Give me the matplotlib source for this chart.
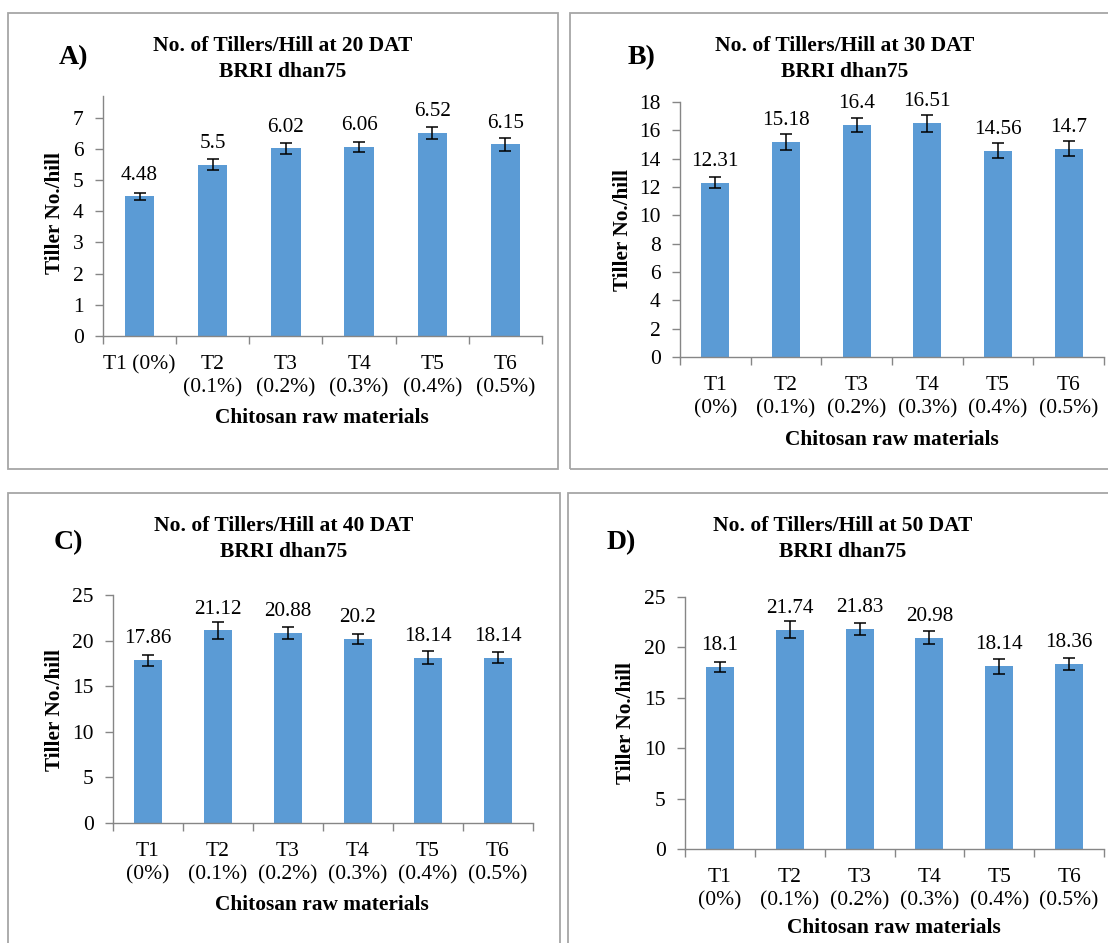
import numpy as np
import matplotlib
matplotlib.use("Agg")
import matplotlib.pyplot as plt
from matplotlib.patches import Rectangle

plt.rcParams['font.family'] = ['Liberation Serif', 'DejaVu Serif']

# data
cats_a = ["T1 (0%)", "T2\n(0.1%)", "T3\n(0.2%)", "T4\n(0.3%)", "T5\n(0.4%)", "T6\n(0.5%)"]
cats = ["T1\n(0%)", "T2\n(0.1%)", "T3\n(0.2%)", "T4\n(0.3%)", "T5\n(0.4%)", "T6\n(0.5%)"]

dat20 = [4.48, 5.5, 6.02, 6.06, 6.52, 6.15]
err20 = [0.12, 0.19, 0.18, 0.17, 0.20, 0.21]
dat30 = [12.31, 15.18, 16.4, 16.51, 14.56, 14.7]
err30 = [0.39, 0.59, 0.49, 0.60, 0.52, 0.54]
dat40 = [17.86, 21.12, 20.88, 20.2, 18.14, 18.14]
err40 = [0.60, 0.90, 0.66, 0.55, 0.71, 0.60]
dat50 = [18.1, 21.74, 21.83, 20.98, 18.14, 18.36]
err50 = [0.50, 0.83, 0.57, 0.62, 0.73, 0.63]

W, H = 1108, 943
fig = plt.figure(figsize=(W/100, H/100), dpi=100)

def fx(x):
    return x/W

def fy(y):
    return 1 - y/H

# panel frames
for (x0, y0, x1, y1) in [(8, 13, 558, 469), (570, 13, 1115, 469),
                         (8, 493, 560, 955), (568, 493, 1115, 955)]:
    fig.patches.append(Rectangle((fx(x0), fy(y1)), fx(x1-x0), (y1-y0)/H,
                                 transform=fig.transFigure, fill=False,
                                 edgecolor="#a6a6a6", lw=1.3))

panels = [
    # axes box (l, t, r, b) in pixels, then data and text spots
    dict(ax=(103, 96, 542, 336), d=dat20, e=err20, lab=cats_a, ymax=7.7, step=1,
         letter="A)", lpos=(73, 58), day=20, tpos=(283, 46), ylpos=(55, 213), xlpos=(322, 418)),
    dict(ax=(680, 102, 1104, 357), d=dat30, e=err30, lab=cats, ymax=18, step=2,
         letter="B)", lpos=(642, 58), day=30, tpos=(845, 46), ylpos=(623, 230), xlpos=(892, 440)),
    dict(ax=(113, 595, 533, 823), d=dat40, e=err40, lab=cats, ymax=25, step=5,
         letter="C)", lpos=(68, 543), day=40, tpos=(284, 526), ylpos=(55, 710), xlpos=(322, 905)),
    dict(ax=(685, 597, 1104, 849), d=dat50, e=err50, lab=cats, ymax=25, step=5,
         letter="D)", lpos=(621, 543), day=50, tpos=(843, 526), ylpos=(626, 723), xlpos=(894, 928)),
]

for p in panels:
    l, t, r, b = p["ax"]
    ax = fig.add_axes([fx(l), fy(b), fx(r-l), (b-t)/H])
    x = np.arange(len(p["d"]))
    ax.bar(x, p["d"], width=0.4, color="#5b9bd5", zorder=2)
    ax.errorbar(x, p["d"], yerr=p["e"], fmt="none", ecolor="black",
                elinewidth=1.1, capsize=4.3, capthick=1.1, zorder=3)
    for xi, v in zip(x, p["d"]):
        ax.annotate("{:g}".format(v), (xi, v), xytext=(0, 12), textcoords="offset points",
                    ha="center", va="baseline", fontsize=15.2)
    ax.set_xlim(-0.5, len(x)-0.5)
    ax.set_ylim(0, p["ymax"])
    ax.set_yticks(np.arange(0, p["ymax"]+0.01, p["step"]))
    ax.set_xticks(x)
    ax.set_xticklabels(p["lab"], fontsize=15.5, linespacing=1.3)
    ax.set_xticks(np.arange(-0.5, len(x), 1), minor=True)
    ax.tick_params(axis="x", which="major", length=0, pad=14)
    ax.tick_params(axis="x", which="minor", length=6, color="#868686", width=1)
    ax.tick_params(axis="y", length=6, color="#868686", width=1, labelsize=15.5, pad=8)
    for s in ["top", "right"]:
        ax.spines[s].set_visible(False)
    for s in ["left", "bottom"]:
        ax.spines[s].set_color("#868686")
        ax.spines[s].set_linewidth(1)
    ax.patch.set_alpha(0)

    fig.text(fx(p["tpos"][0]), fy(p["tpos"][1]),
             "No. of Tillers/Hill at %d DAT" % p["day"], ha="center", va="center",
             fontsize=15.5, fontweight="bold")
    fig.text(fx(p["tpos"][0]), fy(p["tpos"][1]+26), "BRRI dhan75", ha="center", va="center",
             fontsize=15.5, fontweight="bold")
    fig.text(fx(p["lpos"][0]), fy(p["lpos"][1]), p["letter"], ha="center", va="center",
             fontsize=20, fontweight="bold")
    fig.text(fx(p["ylpos"][0]), fy(p["ylpos"][1]), "Tiller No./hill", ha="center", va="center",
             rotation=90, fontsize=15.3, fontweight="bold")
    fig.text(fx(p["xlpos"][0]), fy(p["xlpos"][1]), "Chitosan raw materials", ha="center",
             va="center", fontsize=15.4, fontweight="bold")

fig.savefig("out.png", dpi=100)
